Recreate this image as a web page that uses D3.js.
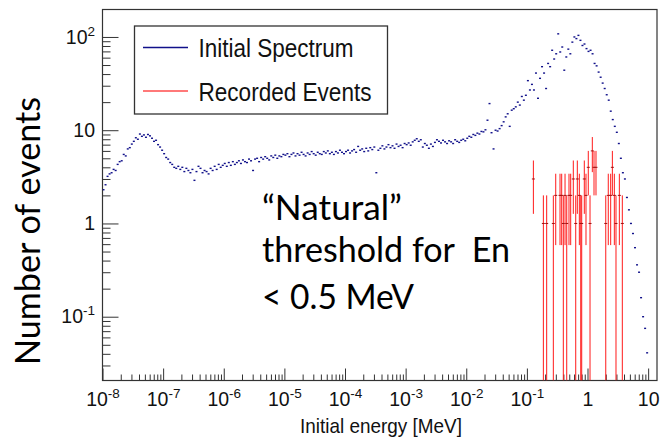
<!DOCTYPE html>
<html>
<head>
<meta charset="utf-8">
<script src="https://cdn.jsdelivr.net/npm/d3@7"></script>
<style>
  body { margin: 0; background: #fff; }
  svg { display: block; }
</style>
</head>
<body>
<svg id="chart" width="660" height="439"></svg>
<script>
// initial spectrum: 30 log bins per decade, starting at 1e-8 MeV
const binsPerDecade = 30;
const firstDecade = -8;
const spectrum = [
  // 1e-8 .. 1e-7
  2.3, 2.6, 3.2, 3.4, 3.5, 3.8, 3.7, 4.3, 4.6, 4.7, 5.5, 5.3, 6.3, 6.5, 7.1, 7.6, 8.3, 8.0, 9.1, 8.6, 8.9, 8.4, 9.0, 8.7, 8.2, 7.6, 7.8, 7.0, 6.6, 6.1,
  // 1e-7 .. 1e-6
  5.6, 5.1, 4.9, 4.5, 4.3, 4.0, 3.9, 4.1, 3.8, 4.0, 3.6, 3.9, 3.7, 3.5, 3.8, 2.9, 3.6, 4.1, 3.9, 3.5, 3.7, 3.6, 3.4, 3.9, 3.7, 4.1, 3.8, 4.3, 4.0, 4.2,
  // 1e-6 .. 1e-5
  4.4, 4.1, 4.5, 4.2, 4.6, 4.3, 4.5, 4.7, 4.4, 4.8, 4.6, 4.5, 4.9, 4.7, 3.7, 4.9, 5.0, 4.6, 5.1, 4.9, 5.2, 5.0, 4.8, 5.3, 5.1, 5.4, 5.0, 5.3, 5.2, 5.5,
  // 1e-5 .. 1e-4
  5.4, 5.6, 5.2, 5.5, 5.7, 5.3, 5.6, 5.4, 5.8, 5.5, 5.3, 5.7, 5.5, 5.9, 5.6, 5.4, 5.8, 5.6, 5.5, 5.9, 5.7, 6.0, 5.6, 5.8, 5.5, 5.9, 5.7, 6.1, 5.8, 5.6,
  // 1e-4 .. 1e-3
  5.9, 6.1, 5.7, 6.0, 6.2, 5.8, 6.7, 6.1, 6.3, 5.9, 6.4, 6.0, 6.5, 6.2, 6.6, 3.5, 6.1, 6.4, 6.8, 6.3, 6.6, 7.0, 6.5, 6.8, 6.4, 7.1, 6.7, 6.9, 6.5, 7.2,
  // 1e-3 .. 1e-2
  7.0, 7.3, 6.9, 7.5, 7.8, 8.1, 7.6, 7.9, 6.6, 7.2, 6.9, 6.4, 7.1, 6.7, 7.4, 7.9, 7.6, 7.3, 7.8, 7.5, 7.2, 7.7, 7.5, 7.2, 7.9, 7.6, 7.4, 7.8, 8.0, 7.7,
  // 1e-2 .. 1e-1
  8.2, 8.6, 8.4, 9.0, 8.8, 9.3, 9.1, 9.7, 9.6, 10.1, 12.8, 19.3, 9.4, 6.3, 10.0, 9.8, 10.4, 11.2, 12.3, 13.9, 15.0, 11.0, 16.4, 17.0, 17.8, 20.0, 18.6, 23.0, 21.0, 23.7,
  // 1e-1 .. 1
  34, 27, 31, 27, 41, 22, 36, 48, 41, 28, 52, 48, 72, 58, 66, 108, 69, 78, 44, 61, 74, 66, 88, 100, 96, 104, 92, 81, 84, 75,
  // 1 .. 10
  70, 72, 66, 52, 49, 42, 37, 32, 28, 24, 21, 16, 13, 11, 9.5, 7.2, 5.0, 3.5, 3.0, 1.9, 1.4, 1.0, 0.78, 0.55, 0.36, 0.30, 0.16, 0.10, 0.075, 0.041
];

// recorded events (MeV, counts)
const recEnergy = [0.128, 0.187, 0.212, 0.273, 0.299, 0.352, 0.375, 0.399, 0.426, 0.454, 0.495, 0.528,
  0.583, 0.639, 0.679, 0.733, 0.773, 0.802, 0.885, 0.944, 1.03, 1.10, 1.20, 1.28, 1.38,
  2.0, 2.20, 2.41, 2.57, 2.77, 2.95, 3.35, 3.75];
const recCounts = [3, 1, 1, 1, 2, 2, 2, 1, 2, 1, 2, 2,
  3, 1, 3, 2, 1, 1, 3, 2, 4, 1, 6, 4, 4,
  1, 2, 2, 4, 2, 1, 2, 1];

const xTickExp = [-8, -7, -6, -5, -4, -3, -2, -1, 0, 1];
const yTickExp = [-1, 0, 1, 2];

const svg = d3.select("#chart");
const frame = { left: 102.5, right: 657, top: 9.5, bottom: 380.5 };

const x = d3.scaleLog().domain([1e-8, 14]).range([frame.left, frame.right]);
const y = d3.scaleLog().domain([0.0207, 197]).range([frame.bottom, frame.top]);

const minors = exps => exps.flatMap(e => d3.range(2, 10).map(k => k * Math.pow(10, e)));
const xMajor = xTickExp.map(e => Math.pow(10, e));
const yMajor = yTickExp.map(e => Math.pow(10, e));
const xMinor = minors(xTickExp).filter(v => v < x.domain()[1]);
const yMinor = minors([-2, ...yTickExp]).filter(v => v > y.domain()[0] && v < y.domain()[1]);

function powLabel(sel) {
  sel.each(function(d) {
    const e = Math.round(Math.log10(d));
    const t = d3.select(this).text(null);
    if (e === 0 || e === 1) { t.text(e === 0 ? "1" : "10"); return; }
    t.append("tspan").text("10");
    t.append("tspan").attr("dy", "-0.6em").style("font-size", "13.5px").text(e);
  });
}

// x axis
const gx = svg.append("g").attr("transform", `translate(0,${frame.bottom})`)
  .style("color", "#333")
  .style("font-family", "'Liberation Sans', Arial, sans-serif");
gx.append("g").call(d3.axisBottom(x).tickValues(xMinor).tickSizeInner(-6).tickSizeOuter(0).tickFormat(""))
  .selectAll("text").remove();
const gxMajor = gx.append("g").call(d3.axisBottom(x).tickValues(xMajor).tickSizeInner(-12).tickSizeOuter(0).tickPadding(12));
gx.selectAll(".domain").remove();
gxMajor.selectAll("text").style("font-size", "19.5px").attr("fill", "#111").call(powLabel);

// y axis
const gy = svg.append("g").attr("transform", `translate(${frame.left},0)`)
  .style("color", "#333")
  .style("font-family", "'Liberation Sans', Arial, sans-serif");
gy.append("g").call(d3.axisLeft(y).tickValues(yMinor).tickSizeInner(-8).tickSizeOuter(0).tickFormat(""))
  .selectAll("text").remove();
const gyMajor = gy.append("g").call(d3.axisLeft(y).tickValues(yMajor).tickSizeInner(-16).tickSizeOuter(0).tickPadding(7.5));
gy.selectAll(".domain").remove();
gyMajor.selectAll("text").style("font-size", "19.5px").attr("fill", "#111").call(powLabel);

// frame
svg.append("rect")
  .attr("x", frame.left).attr("y", frame.top)
  .attr("width", frame.right - frame.left).attr("height", frame.bottom - frame.top)
  .attr("fill", "none").attr("stroke", "#333").attr("stroke-width", 1.2);

svg.append("clipPath").attr("id", "plot")
  .append("rect").attr("x", frame.left).attr("y", frame.top)
  .attr("width", frame.right - frame.left).attr("height", frame.bottom - frame.top);

const plot = svg.append("g").attr("clip-path", "url(#plot)");

// initial spectrum markers
const bins = spectrum.map((v, i) => ({
  e: Math.pow(10, firstDecade + (i + 0.5) / binsPerDecade),
  v
}));
plot.append("g").selectAll("rect")
  .data(bins)
  .join("rect")
  .attr("x", d => x(d.e) - 1)
  .attr("y", d => y(d.v) - 0.7)
  .attr("width", 2)
  .attr("height", 1.4)
  .attr("fill", "#10108a");

// recorded events with poisson errors
const rec = recEnergy.map((e, i) => ({ e, n: recCounts[i] }));
const rg = plot.append("g");
rg.selectAll("line.err")
  .data(rec)
  .join("line")
  .attr("class", "err")
  .attr("x1", d => x(d.e)).attr("x2", d => x(d.e))
  .attr("y1", d => y(d.n + Math.sqrt(d.n)))
  .attr("y2", d => d.n - Math.sqrt(d.n) > y.domain()[0] ? y(d.n - Math.sqrt(d.n)) : frame.bottom)
  .attr("stroke", "#ff1a1a")
  .attr("stroke-width", 1);
rg.selectAll("line.mid")
  .data(rec)
  .join("line")
  .attr("class", "mid")
  .attr("x1", d => x(d.e) - 1.5).attr("x2", d => x(d.e) + 1.5)
  .attr("y1", d => y(d.n)).attr("y2", d => y(d.n))
  .attr("stroke", "#a01010")
  .attr("stroke-width", 1);

// legend
const lg = svg.append("g");
lg.append("rect")
  .attr("x", 134.5).attr("y", 26).attr("width", 253).attr("height", 88)
  .attr("fill", "#fff").attr("stroke", "#333").attr("stroke-width", 1.3);
const legendItems = [
  { label: "Initial Spectrum", color: "#10108a", y: 47.5, len: 155 },
  { label: "Recorded Events", color: "#ff4d4d", y: 91, len: 173 }
];
legendItems.forEach(d => {
  lg.append("line")
    .attr("x1", 143).attr("x2", 188).attr("y1", d.y).attr("y2", d.y)
    .attr("stroke", d.color).attr("stroke-width", 1.5);
  lg.append("text")
    .attr("x", 198.5).attr("y", d.y + 9.5)
    .attr("textLength", d.len).attr("lengthAdjust", "spacingAndGlyphs")
    .style("font-family", "'Liberation Sans', Arial, sans-serif")
    .style("font-size", "26px")
    .attr("fill", "#111")
    .text(d.label);
});

// axis titles
svg.append("text")
  .attr("x", 381).attr("y", 433)
  .attr("text-anchor", "middle")
  .attr("textLength", 162).attr("lengthAdjust", "spacingAndGlyphs")
  .style("font-family", "'Liberation Sans', Arial, sans-serif")
  .style("font-size", "21px")
  .attr("fill", "#111")
  .text("Initial energy [MeV]");

svg.append("text")
  .attr("transform", "translate(40,231) rotate(-90)")
  .attr("text-anchor", "middle")
  .attr("textLength", 268).attr("lengthAdjust", "spacingAndGlyphs")
  .style("font-family", "Lato, 'Open Sans', sans-serif")
  .style("font-size", "35px")
  .attr("fill", "#000")
  .text("Number of events");

// annotation
const note = [
  { t: "\u201CNatural\u201D", y: 219.5, len: 140 },
  { t: "threshold for  En", y: 262, len: 248 },
  { t: "< 0.5 MeV", y: 308.5, len: 152 }
];
svg.append("g").selectAll("text")
  .data(note)
  .join("text")
  .attr("x", 262).attr("y", d => d.y)
  .attr("textLength", d => d.len).attr("lengthAdjust", "spacingAndGlyphs")
  .style("font-family", "Lato, 'Open Sans', sans-serif")
  .style("font-size", "34px")
  .style("white-space", "pre")
  .attr("fill", "#000")
  .text(d => d.t);
</script>
</body>
</html>
